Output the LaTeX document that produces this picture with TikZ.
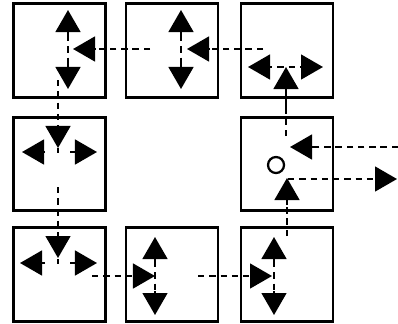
\documentclass[tikz,border=0pt]{standalone}
\usetikzlibrary{arrows.meta}

\begin{document}
\begin{tikzpicture}[x=0.025cm,y=-0.025cm,
    cell/.style={draw, line width=2pt, minimum width=2.3cm, minimum height=2.33cm, inner sep=0pt},
    flow/.style={line width=1.5pt, dash pattern=on 4.5pt off 3.5pt},
    spearhead/.style={line width=1.5pt, -{Triangle[length=0.55cm,width=0.62cm]}}]

    % Frame of the picture
    \useasboundingbox (0,0) rectangle (398,323);

    % The eight cells (middle one missing)
    \foreach \n/\x/\y in {11/59.5/50.5, 12/172/50.5, 13/287/50.5,
                          21/59.5/164, 23/287/164,
                          31/59.5/274.5, 32/172/274.5, 33/287/274.5}
    \node[cell] (c\n) at (\x,\y) {};

    % Input from the right into cell 23
    \draw[flow] (398,147) -- (314,147);
    \draw[spearhead] (314,147) -- (290,147);
    \draw[line width=1.6pt] (276,165) circle [radius=0.2cm];

    % Cell 23 up to cell 13
    \draw[flow] (286,136) -- (286,108);
    \draw[spearhead] (286,108) -- (286,67);

    % Cell 13 splits left and right
    \draw[spearhead] (266,67) -- (248,67);
    \draw[spearhead] (302,67) -- (323,67);
    \draw[flow] (266,67) -- (302,67);

    % Cell 13 to cell 12
    \draw[flow] (263,49) -- (210,49);
    \draw[spearhead] (210,49) -- (187,49);
    \draw[spearhead] (181,35) -- (181,10);
    \draw[spearhead] (181,64) -- (181,89);
    \draw[flow] (181,35) -- (181,64);

    % Cell 12 to cell 11
    \draw[flow] (150,49) -- (96,49);
    \draw[spearhead] (96,49) -- (73,49);
    \draw[spearhead] (68,35) -- (68,10);
    \draw[spearhead] (68,64) -- (68,89);
    \draw[flow] (68,35) -- (68,64);

    % Cell 11 down to cell 21
    \draw[flow] (58,80) -- (58,126);
    \draw[spearhead] (58,126) -- (58,148);
    \draw[spearhead] (45,152) -- (22,152);
    \draw[spearhead] (70,152) -- (97,152);
    \draw[line width=1.5pt] (58,148) -- (58,153);

    % Cell 21 down to cell 31
    \draw[flow] (58,187) -- (58,236);
    \draw[spearhead] (58,236) -- (58,258);
    \draw[spearhead] (45,263) -- (20,263);
    \draw[spearhead] (70,263) -- (97,263);
    \draw[line width=1.5pt] (58,259) -- (58,264);

    % Cell 31 to cell 32
    \draw[flow] (92,276) -- (133,276);
    \draw[spearhead] (133,276) -- (155,276);
    \draw[spearhead] (155,261) -- (155,237);
    \draw[spearhead] (155,291) -- (155,315);
    \draw[flow] (155,261) -- (155,291);

    % Cell 32 to cell 33
    \draw[flow] (198,276) -- (250,276);
    \draw[spearhead] (250,276) -- (272,276);
    \draw[spearhead] (274,261) -- (274,237);
    \draw[spearhead] (274,291) -- (274,315);
    \draw[flow] (274,261) -- (274,291);

    % Cell 33 up to cell 23 and out to the right
    \draw[flow] (287,236) -- (287,205);
    \draw[spearhead] (287,205) -- (287,178);
    \draw[flow] (288,179) -- (376,179);
    \draw[spearhead] (376,179) -- (397,179);

  \end{tikzpicture}
\end{document}
